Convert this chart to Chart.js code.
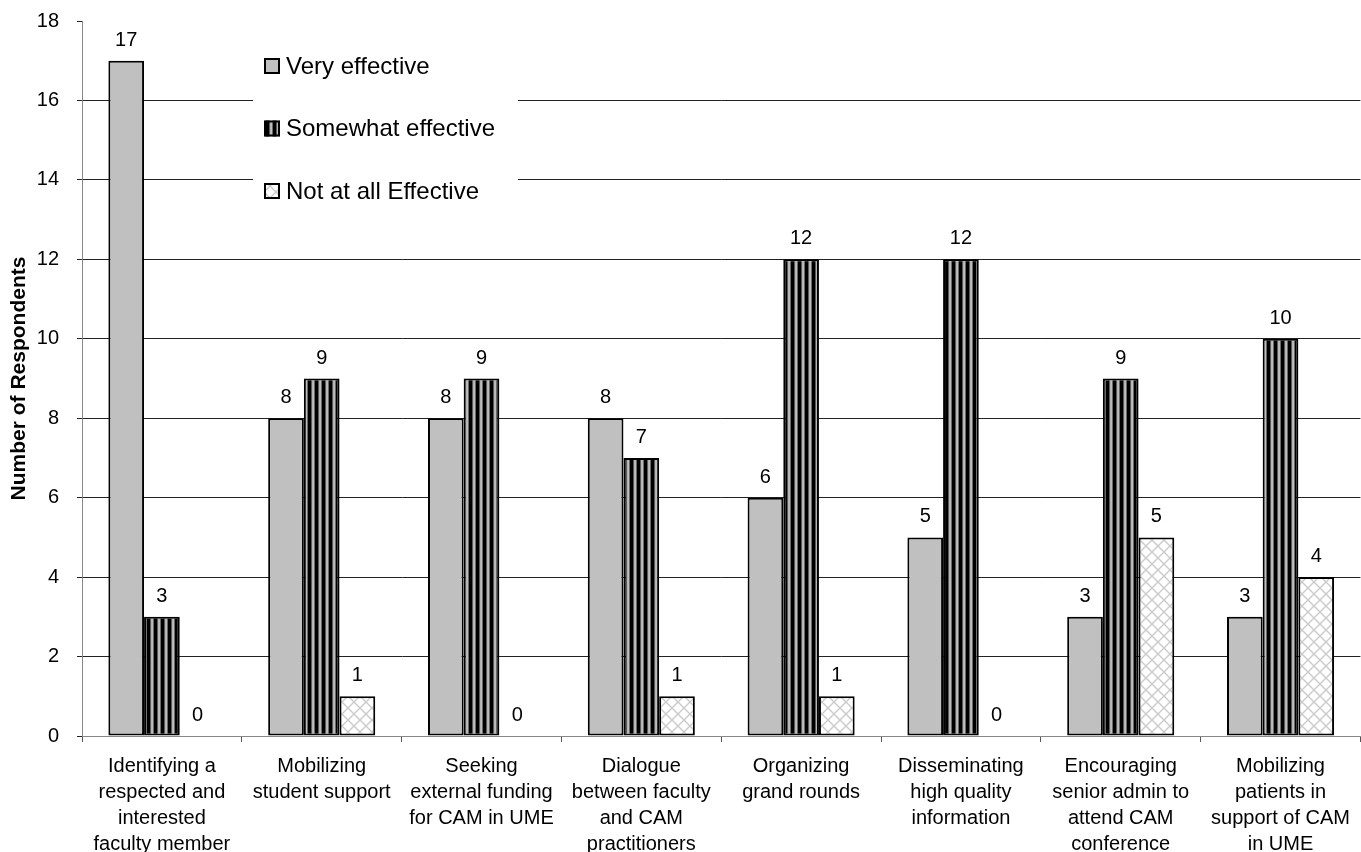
<!DOCTYPE html>
<html>
<head>
<meta charset="utf-8">
<script src="https://cdn.jsdelivr.net/npm/chart.js@4/dist/chart.umd.min.js"></script>
<style>
  html, body { margin: 0; padding: 0; background: #fff; }
  #wrap { width: 1361px; height: 852px; }
</style>
</head>
<body>
<div id="wrap"><canvas id="c" width="1361" height="852"></canvas></div>
<script>
// Survey strategies (x categories, wrapped into lines)
const categories = [
  ['Identifying a', 'respected and', 'interested', 'faculty member'],
  ['Mobilizing', 'student support'],
  ['Seeking', 'external funding', 'for CAM in UME'],
  ['Dialogue', 'between faculty', 'and CAM', 'practitioners'],
  ['Organizing', 'grand rounds'],
  ['Disseminating', 'high quality', 'information'],
  ['Encouraging', 'senior admin to', 'attend CAM', 'conference'],
  ['Mobilizing', 'patients in', 'support of CAM', 'in UME']
];

const seriesNames = ['Very effective', 'Somewhat effective', 'Not at all Effective'];

// Number of respondents per rating
const veryEffective     = [17, 8, 8, 8, 6, 5, 3, 3];
const somewhatEffective = [3, 9, 9, 7, 12, 12, 9, 10];
const notEffective      = [0, 1, 0, 1, 1, 0, 5, 4];

// Y axis range and step
const yMin = 0;
const yMax = 18;
const yStep = 2;

const FONT = '"Liberation Sans", Arial, Helvetica, sans-serif';

// Fill patterns for the bars
function stripePattern() {
  const c = document.createElement('canvas');
  c.width = 7; c.height = 4;
  const g = c.getContext('2d');
  const cols = ['#000', '#000', '#000', '#5a5a5a', '#b4b4b4', '#bdbdbd', '#6a6a6a'];
  cols.forEach((col, i) => { g.fillStyle = col; g.fillRect(i, 0, 1, 4); });
  return g.createPattern(c, 'repeat');
}
function crossPattern() {
  const c = document.createElement('canvas');
  c.width = 12; c.height = 12;
  const g = c.getContext('2d');
  g.fillStyle = '#fff';
  g.fillRect(0, 0, 12, 12);
  g.strokeStyle = '#cacaca';
  g.lineWidth = 1.4;
  g.beginPath();
  g.moveTo(-1, -1); g.lineTo(13, 13);
  g.moveTo(13, -1); g.lineTo(-1, 13);
  g.stroke();
  return g.createPattern(c, 'repeat');
}

const fills = ['#c0c0c0', stripePattern(), crossPattern()];
const seriesData = [veryEffective, somewhatEffective, notEffective];

// Value printed above each bar
const valueLabels = {
  id: 'valueLabels',
  afterDatasetsDraw(chart) {
    const ctx = chart.ctx;
    ctx.save();
    ctx.font = '20px ' + FONT;
    ctx.fillStyle = '#000';
    ctx.textAlign = 'center';
    ctx.textBaseline = 'alphabetic';
    chart.data.datasets.forEach((ds, i) => {
      chart.getDatasetMeta(i).data.forEach((bar, j) => {
        ctx.fillText(String(ds.data[j]), bar.x, bar.y - 15);
      });
    });
    ctx.restore();
  }
};

// Legend box sitting inside the plot area
const boxLegend = {
  id: 'boxLegend',
  afterDraw(chart) {
    const ctx = chart.ctx;
    const x0 = 253, y0 = 22, w = 265, h = 200;
    ctx.save();
    ctx.fillStyle = '#fff';
    ctx.fillRect(x0, y0, w, h);
    ctx.font = '24px ' + FONT;
    ctx.textBaseline = 'middle';
    ctx.textAlign = 'left';
    chart.data.datasets.forEach((ds, i) => {
      const cy = 66 + i * 62.5;
      ctx.fillStyle = ds.backgroundColor;
      ctx.fillRect(264, cy - 8, 16, 16);
      ctx.strokeStyle = '#000';
      ctx.lineWidth = 2;
      ctx.strokeRect(265, cy - 7, 14, 14);
      ctx.fillStyle = '#000';
      ctx.fillText(ds.label, 286, cy + 1);
    });
    ctx.restore();
  }
};

new Chart(document.getElementById('c'), {
  type: 'bar',
  data: {
    labels: categories,
    datasets: seriesNames.map((name, i) => ({
      label: name,
      data: seriesData[i],
      backgroundColor: fills[i],
      borderColor: '#000',
      borderWidth: ctx => (ctx.raw === 0 ? 0 : 2),
      borderSkipped: false,
      categoryPercentage: 0.67,
      barPercentage: 1.0
    }))
  },
  options: {
    responsive: false,
    animation: false,
    devicePixelRatio: 1,
    layout: { padding: { top: 21, right: 0, bottom: 0, left: 0 } },
    plugins: {
      legend: { display: false },
      tooltip: { enabled: false }
    },
    scales: {
      x: {
        grid: {
          offset: true,
          drawOnChartArea: false,
          drawTicks: true,
          tickLength: 6,
          color: '#555'
        },
        border: { color: '#888', width: 1 },
        ticks: {
          color: '#000',
          font: { family: FONT, size: 20, lineHeight: 1.3 },
          padding: 11,
          maxRotation: 0,
          autoSkip: false
        },
        afterFit(scale) { scale.height = 116; }
      },
      y: {
        min: yMin,
        max: yMax,
        ticks: {
          stepSize: yStep,
          color: '#000',
          font: { family: FONT, size: 20 },
          padding: 18
        },
        grid: {
          color: ctx => {
            const v = ctx.tick ? ctx.tick.value : null;
            if (v === yMax) return 'rgba(0,0,0,0)';
            if (v === yMin) return '#888';
            return '#222';
          },
          tickColor: '#222',
          tickLength: 5
        },
        border: { color: '#888', width: 1 },
        title: {
          display: true,
          text: 'Number of Respondents',
          color: '#000',
          font: { family: FONT, size: 21, weight: 'bold' },
          padding: { top: 7, bottom: 0 }
        },
        afterFit(scale) {
          scale.width = 82;
          scale.paddingTop = 0;
          scale.paddingBottom = 0;
        }
      }
    }
  },
  plugins: [valueLabels, boxLegend]
});
</script>
</body>
</html>
